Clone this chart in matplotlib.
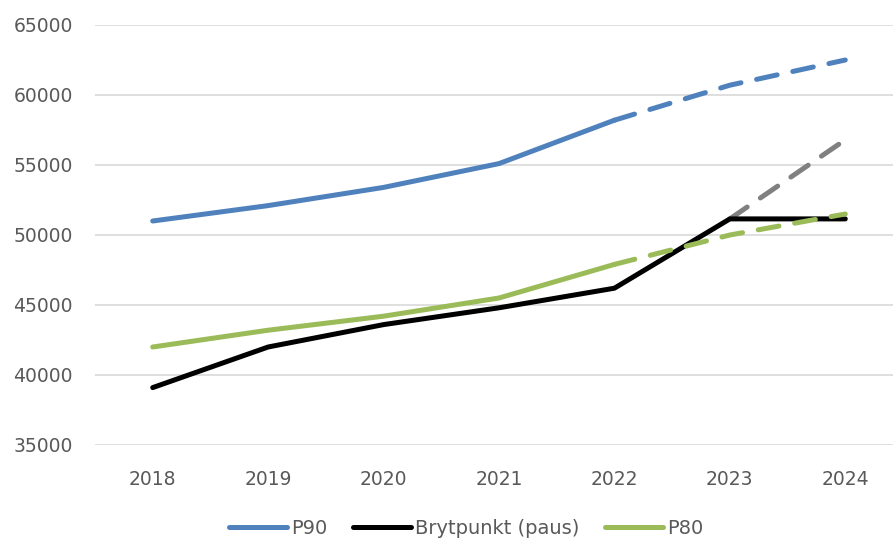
import matplotlib.pyplot as plt
import numpy as np

years = ['2018', '2019', '2020', '2021', '2022', '2023', '2024']
p90 = [51000, 52100, 53400, 55100, 58200, 60700, 62500]
brytpunkt = [39100, 42000, 43600, 44800, 46200, 51150, 51150]
p80 = [42000, 43200, 44200, 45500, 47900, 50000, 51500]
grey_proj = [51150, 56800]   # 2023 -> 2024

blue = '#4f81bd'
green = '#9bbb59'
grey = '#808080'
txt = '#595959'
lw = 3.6
dash = (4.2, 3.2)

x = np.arange(len(years))

fig = plt.figure(figsize=(8.93, 5.39), dpi=100)
ax = fig.add_axes([95 / 893, 1 - 445 / 539, 798 / 893, 420 / 539])

# blue: solid history, dashed forecast
ax.plot(x[:5], p90[:5], color=blue, lw=lw, solid_capstyle='round', label='P90')
ax.plot(x[4:], p90[4:], color=blue, lw=lw, dashes=dash, dash_capstyle='round')

# grey projection under the black line
ax.plot(x[5:], grey_proj, color=grey, lw=lw, dashes=dash, dash_capstyle='round')

ax.plot(x, brytpunkt, color='black', lw=lw, solid_capstyle='round',
        solid_joinstyle='round', label='Brytpunkt (paus)')

ax.plot(x[:5], p80[:5], color=green, lw=lw, solid_capstyle='round', label='P80')
ax.plot(x[4:], p80[4:], color=green, lw=lw, dashes=dash, dash_capstyle='round')

ax.set_ylim(35000, 65000)
ax.set_yticks(np.arange(35000, 65001, 5000))
ax.set_xlim(-0.5, 6.5 - 10 / 115.5)
ax.set_xticks(x)
ax.set_xticklabels(years)
ax.grid(axis='y', color='#d9d9d9', lw=1.2)
ax.set_axisbelow(True)
for s in ax.spines.values():
    s.set_visible(False)
ax.tick_params(length=0, labelsize=13.5, colors=txt)
ax.tick_params(axis='y', pad=16)
ax.tick_params(axis='x', pad=18)

h, l = ax.get_legend_handles_labels()
leg = fig.legend(h, l, loc='center', bbox_to_anchor=(466 / 893, 1 - 528 / 539),
                 ncol=3, frameon=False, fontsize=14, handlelength=3.0,
                 handletextpad=0.2, columnspacing=1.3, borderpad=0)
for t in leg.get_texts():
    t.set_color(txt)

fig.savefig('out.png', dpi=100)
